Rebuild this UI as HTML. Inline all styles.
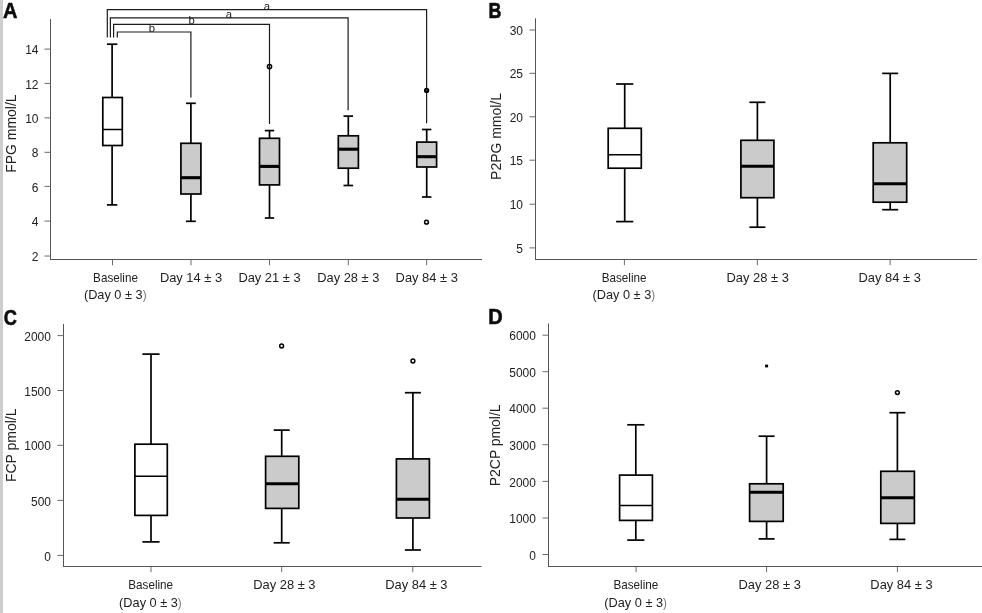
<!DOCTYPE html>
<html><head><meta charset="utf-8"><title>Figure</title>
<style>
html,body{margin:0;padding:0;background:#fff;}
body{width:982px;height:613px;overflow:hidden;}
svg{display:block;will-change:transform;font-family:"Liberation Sans",sans-serif;}
</style></head><body>
<svg width="982" height="613" viewBox="0 0 982 613">
<rect x="0" y="0" width="982" height="613" fill="#fff"/>
<rect x="0" y="0" width="3" height="613" fill="#cdcdcd"/>
<text transform="translate(2.9 17.5) scale(0.91 1)" font-size="22" font-weight="bold" fill="#0d0d0d" stroke="#0d0d0d" stroke-width="0.6" stroke-linejoin="round">A</text>
<line x1="50.5" y1="19" x2="50.5" y2="260.0" stroke="#555" stroke-width="1" />
<line x1="50.0" y1="259.5" x2="482" y2="259.5" stroke="#555" stroke-width="1" />
<line x1="44.5" y1="49.1" x2="50.5" y2="49.1" stroke="#6a6a6a" stroke-width="1" />
<text x="38.5" y="54.2" font-size="13.2" text-anchor="end" font-weight="normal" fill="#222" textLength="13.36" lengthAdjust="spacingAndGlyphs">14</text>
<line x1="44.5" y1="83.4" x2="50.5" y2="83.4" stroke="#6a6a6a" stroke-width="1" />
<text x="38.5" y="88.5" font-size="13.2" text-anchor="end" font-weight="normal" fill="#222" textLength="13.36" lengthAdjust="spacingAndGlyphs">12</text>
<line x1="44.5" y1="117.9" x2="50.5" y2="117.9" stroke="#6a6a6a" stroke-width="1" />
<text x="38.5" y="123.0" font-size="13.2" text-anchor="end" font-weight="normal" fill="#222" textLength="13.36" lengthAdjust="spacingAndGlyphs">10</text>
<line x1="44.5" y1="152.3" x2="50.5" y2="152.3" stroke="#6a6a6a" stroke-width="1" />
<text x="38.5" y="157.4" font-size="13.2" text-anchor="end" font-weight="normal" fill="#222" textLength="6.68" lengthAdjust="spacingAndGlyphs">8</text>
<line x1="44.5" y1="186.4" x2="50.5" y2="186.4" stroke="#6a6a6a" stroke-width="1" />
<text x="38.5" y="191.5" font-size="13.2" text-anchor="end" font-weight="normal" fill="#222" textLength="6.68" lengthAdjust="spacingAndGlyphs">6</text>
<line x1="44.5" y1="221.1" x2="50.5" y2="221.1" stroke="#6a6a6a" stroke-width="1" />
<text x="38.5" y="226.2" font-size="13.2" text-anchor="end" font-weight="normal" fill="#222" textLength="6.68" lengthAdjust="spacingAndGlyphs">4</text>
<line x1="44.5" y1="256.0" x2="50.5" y2="256.0" stroke="#6a6a6a" stroke-width="1" />
<text x="38.5" y="261.1" font-size="13.2" text-anchor="end" font-weight="normal" fill="#222" textLength="6.68" lengthAdjust="spacingAndGlyphs">2</text>
<line x1="112.5" y1="259.5" x2="112.5" y2="265.2" stroke="#6a6a6a" stroke-width="1" />
<line x1="191" y1="259.5" x2="191" y2="265.2" stroke="#6a6a6a" stroke-width="1" />
<line x1="269.5" y1="259.5" x2="269.5" y2="265.2" stroke="#6a6a6a" stroke-width="1" />
<line x1="348.3" y1="259.5" x2="348.3" y2="265.2" stroke="#6a6a6a" stroke-width="1" />
<line x1="426.7" y1="259.5" x2="426.7" y2="265.2" stroke="#6a6a6a" stroke-width="1" />
<text x="16.2" y="133.6" font-size="14.4" text-anchor="middle" font-weight="normal" fill="#222" textLength="78.4" lengthAdjust="spacingAndGlyphs" transform="rotate(-90 16.2 133.6)">FPG mmol/L</text>
<polyline points="107.3,37.6 107.3,9.7 426.6,9.7 426.6,123.3" fill="none" stroke="#1c1c1c" stroke-width="1.2"/>
<polyline points="110.4,37.6 110.4,17.8 348.1,17.8 348.1,110.3" fill="none" stroke="#1c1c1c" stroke-width="1.2"/>
<polyline points="113.6,37.6 113.6,24.4 269.5,24.4 269.5,124.0" fill="none" stroke="#1c1c1c" stroke-width="1.2"/>
<polyline points="117.3,37.6 117.3,32.0 190.9,32.0 190.9,97.4" fill="none" stroke="#1c1c1c" stroke-width="1.2"/>
<text x="151.8" y="31.8" font-size="11.3" text-anchor="middle" font-weight="normal" fill="#222">b</text>
<text x="191.6" y="24.1" font-size="11.3" text-anchor="middle" font-weight="normal" fill="#222">b</text>
<text x="229.0" y="17.8" font-size="11.3" text-anchor="middle" font-weight="normal" fill="#222">a</text>
<text x="266.8" y="9.9" font-size="11.3" text-anchor="middle" font-weight="normal" fill="#222">a</text>
<line x1="112.1" y1="44.2" x2="112.1" y2="97.5" stroke="#000" stroke-width="1.7" />
<line x1="112.1" y1="145.5" x2="112.1" y2="204.9" stroke="#000" stroke-width="1.7" />
<line x1="106.89999999999999" y1="44.2" x2="117.3" y2="44.2" stroke="#000" stroke-width="1.7" />
<line x1="106.89999999999999" y1="204.9" x2="117.3" y2="204.9" stroke="#000" stroke-width="1.7" />
<rect x="102.8" y="97.5" width="19.5" height="48.0" fill="#fff" stroke="#000" stroke-width="1.7"/>
<line x1="102.8" y1="129.5" x2="122.3" y2="129.5" stroke="#000" stroke-width="1.5" />
<line x1="190.9" y1="103.3" x2="190.9" y2="143.3" stroke="#000" stroke-width="1.7" />
<line x1="190.9" y1="194.0" x2="190.9" y2="221.3" stroke="#000" stroke-width="1.7" />
<line x1="186.0" y1="103.3" x2="195.8" y2="103.3" stroke="#000" stroke-width="1.7" />
<line x1="186.0" y1="221.3" x2="195.8" y2="221.3" stroke="#000" stroke-width="1.7" />
<rect x="180.9" y="143.3" width="20.0" height="50.7" fill="#cbcbcb" stroke="#000" stroke-width="1.7"/>
<line x1="180.9" y1="177.7" x2="200.9" y2="177.7" stroke="#000" stroke-width="3.1" />
<line x1="269.5" y1="130.6" x2="269.5" y2="138.3" stroke="#000" stroke-width="1.7" />
<line x1="269.5" y1="184.9" x2="269.5" y2="218.0" stroke="#000" stroke-width="1.7" />
<line x1="264.8" y1="130.6" x2="274.2" y2="130.6" stroke="#000" stroke-width="1.7" />
<line x1="264.8" y1="218.0" x2="274.2" y2="218.0" stroke="#000" stroke-width="1.7" />
<rect x="259.5" y="138.3" width="20.0" height="46.6" fill="#cbcbcb" stroke="#000" stroke-width="1.7"/>
<line x1="259.5" y1="166.4" x2="279.5" y2="166.4" stroke="#000" stroke-width="3.1" />
<line x1="348.3" y1="116.1" x2="348.3" y2="135.8" stroke="#000" stroke-width="1.7" />
<line x1="348.3" y1="168.2" x2="348.3" y2="185.5" stroke="#000" stroke-width="1.7" />
<line x1="343.5" y1="116.1" x2="353.1" y2="116.1" stroke="#000" stroke-width="1.7" />
<line x1="343.5" y1="185.5" x2="353.1" y2="185.5" stroke="#000" stroke-width="1.7" />
<rect x="338.3" y="135.8" width="20.1" height="32.4" fill="#cbcbcb" stroke="#000" stroke-width="1.7"/>
<line x1="338.3" y1="149.2" x2="358.4" y2="149.2" stroke="#000" stroke-width="3.1" />
<line x1="426.7" y1="129.5" x2="426.7" y2="142.1" stroke="#000" stroke-width="1.7" />
<line x1="426.7" y1="167.0" x2="426.7" y2="197.0" stroke="#000" stroke-width="1.7" />
<line x1="422.0" y1="129.5" x2="431.4" y2="129.5" stroke="#000" stroke-width="1.7" />
<line x1="422.0" y1="197.0" x2="431.4" y2="197.0" stroke="#000" stroke-width="1.7" />
<rect x="416.8" y="142.1" width="19.8" height="24.9" fill="#cbcbcb" stroke="#000" stroke-width="1.7"/>
<line x1="416.8" y1="156.7" x2="436.6" y2="156.7" stroke="#000" stroke-width="3.1" />
<circle cx="269.5" cy="66.6" r="2.1" fill="none" stroke="#000" stroke-width="1.5"/>
<circle cx="426.6" cy="90.4" r="1.9" fill="#333" stroke="#000" stroke-width="1.5"/>
<circle cx="426.5" cy="222.2" r="1.9" fill="none" stroke="#000" stroke-width="1.5"/>
<text x="115.5" y="281.9" font-size="13.2" text-anchor="middle" font-weight="normal" fill="#222" textLength="44.8" lengthAdjust="spacingAndGlyphs">Baseline</text>
<text x="115.2" y="299.2" font-size="13.2" text-anchor="middle" font-weight="normal" fill="#222" textLength="62.6" lengthAdjust="spacingAndGlyphs">(Day 0 ± 3<tspan fill="#777" font-size="12">)</tspan></text>
<text x="191" y="281.9" font-size="13.2" text-anchor="middle" font-weight="normal" fill="#222" textLength="62.2" lengthAdjust="spacingAndGlyphs">Day 14 ± 3</text>
<text x="269.5" y="281.9" font-size="13.2" text-anchor="middle" font-weight="normal" fill="#222" textLength="62.2" lengthAdjust="spacingAndGlyphs">Day 21 ± 3</text>
<text x="348.3" y="281.9" font-size="13.2" text-anchor="middle" font-weight="normal" fill="#222" textLength="62.2" lengthAdjust="spacingAndGlyphs">Day 28 ± 3</text>
<text x="426.7" y="281.9" font-size="13.2" text-anchor="middle" font-weight="normal" fill="#222" textLength="62.2" lengthAdjust="spacingAndGlyphs">Day 84 ± 3</text>
<text transform="translate(488.4 17.6) scale(0.81 1)" font-size="22" font-weight="bold" fill="#0d0d0d" stroke="#0d0d0d" stroke-width="0.6" stroke-linejoin="round">B</text>
<line x1="535.5" y1="18.3" x2="535.5" y2="260.0" stroke="#555" stroke-width="1" />
<line x1="535.0" y1="259.5" x2="977" y2="259.5" stroke="#555" stroke-width="1" />
<line x1="529.5" y1="30.0" x2="535.5" y2="30.0" stroke="#6a6a6a" stroke-width="1" />
<text x="523.0" y="35.1" font-size="13.2" text-anchor="end" font-weight="normal" fill="#222" textLength="13.36" lengthAdjust="spacingAndGlyphs">30</text>
<line x1="529.5" y1="73.3" x2="535.5" y2="73.3" stroke="#6a6a6a" stroke-width="1" />
<text x="523.0" y="78.39999999999999" font-size="13.2" text-anchor="end" font-weight="normal" fill="#222" textLength="13.36" lengthAdjust="spacingAndGlyphs">25</text>
<line x1="529.5" y1="116.8" x2="535.5" y2="116.8" stroke="#6a6a6a" stroke-width="1" />
<text x="523.0" y="121.89999999999999" font-size="13.2" text-anchor="end" font-weight="normal" fill="#222" textLength="13.36" lengthAdjust="spacingAndGlyphs">20</text>
<line x1="529.5" y1="160.2" x2="535.5" y2="160.2" stroke="#6a6a6a" stroke-width="1" />
<text x="523.0" y="165.29999999999998" font-size="13.2" text-anchor="end" font-weight="normal" fill="#222" textLength="13.36" lengthAdjust="spacingAndGlyphs">15</text>
<line x1="529.5" y1="204.2" x2="535.5" y2="204.2" stroke="#6a6a6a" stroke-width="1" />
<text x="523.0" y="209.29999999999998" font-size="13.2" text-anchor="end" font-weight="normal" fill="#222" textLength="13.36" lengthAdjust="spacingAndGlyphs">10</text>
<line x1="529.5" y1="247.9" x2="535.5" y2="247.9" stroke="#6a6a6a" stroke-width="1" />
<text x="523.0" y="253.0" font-size="13.2" text-anchor="end" font-weight="normal" fill="#222" textLength="6.68" lengthAdjust="spacingAndGlyphs">5</text>
<line x1="624.4" y1="259.5" x2="624.4" y2="265.2" stroke="#6a6a6a" stroke-width="1" />
<line x1="757.3" y1="259.5" x2="757.3" y2="265.2" stroke="#6a6a6a" stroke-width="1" />
<line x1="890.1" y1="259.5" x2="890.1" y2="265.2" stroke="#6a6a6a" stroke-width="1" />
<text x="500.5" y="136.5" font-size="14.4" text-anchor="middle" font-weight="normal" fill="#222" textLength="86.8" lengthAdjust="spacingAndGlyphs" transform="rotate(-90 500.5 136.5)">P2PG mmol/L</text>
<line x1="624.7" y1="84.0" x2="624.7" y2="128.3" stroke="#000" stroke-width="1.7" />
<line x1="624.7" y1="168.2" x2="624.7" y2="221.6" stroke="#000" stroke-width="1.7" />
<line x1="616.1" y1="84.0" x2="633.3000000000001" y2="84.0" stroke="#000" stroke-width="1.7" />
<line x1="616.1" y1="221.6" x2="633.3000000000001" y2="221.6" stroke="#000" stroke-width="1.7" />
<rect x="608.2" y="128.3" width="33.1" height="39.9" fill="#fff" stroke="#000" stroke-width="1.7"/>
<line x1="608.2" y1="154.7" x2="641.3" y2="154.7" stroke="#000" stroke-width="1.5" />
<line x1="757.4" y1="102.3" x2="757.4" y2="140.3" stroke="#000" stroke-width="1.7" />
<line x1="757.4" y1="197.7" x2="757.4" y2="227.2" stroke="#000" stroke-width="1.7" />
<line x1="749.4" y1="102.3" x2="765.4" y2="102.3" stroke="#000" stroke-width="1.7" />
<line x1="749.4" y1="227.2" x2="765.4" y2="227.2" stroke="#000" stroke-width="1.7" />
<rect x="740.9" y="140.3" width="33.0" height="57.4" fill="#cbcbcb" stroke="#000" stroke-width="1.7"/>
<line x1="740.9" y1="166.3" x2="773.9" y2="166.3" stroke="#000" stroke-width="3.1" />
<line x1="890.2" y1="73.4" x2="890.2" y2="142.8" stroke="#000" stroke-width="1.7" />
<line x1="890.2" y1="202.2" x2="890.2" y2="209.7" stroke="#000" stroke-width="1.7" />
<line x1="882.2" y1="73.4" x2="898.2" y2="73.4" stroke="#000" stroke-width="1.7" />
<line x1="882.2" y1="209.7" x2="898.2" y2="209.7" stroke="#000" stroke-width="1.7" />
<rect x="873.2" y="142.8" width="33.5" height="59.4" fill="#cbcbcb" stroke="#000" stroke-width="1.7"/>
<line x1="873.2" y1="183.7" x2="906.7" y2="183.7" stroke="#000" stroke-width="3.1" />
<text x="624.1" y="281.9" font-size="13.2" text-anchor="middle" font-weight="normal" fill="#222" textLength="44.8" lengthAdjust="spacingAndGlyphs">Baseline</text>
<text x="623.8000000000001" y="299.2" font-size="13.2" text-anchor="middle" font-weight="normal" fill="#222" textLength="62.6" lengthAdjust="spacingAndGlyphs">(Day 0 ± 3<tspan fill="#777" font-size="12">)</tspan></text>
<text x="757.7" y="281.9" font-size="13.2" text-anchor="middle" font-weight="normal" fill="#222" textLength="62.3" lengthAdjust="spacingAndGlyphs">Day 28 ± 3</text>
<text x="889.7" y="281.9" font-size="13.2" text-anchor="middle" font-weight="normal" fill="#222" textLength="62.3" lengthAdjust="spacingAndGlyphs">Day 84 ± 3</text>
<text transform="translate(3.8 324.5) scale(0.83 1)" font-size="22" font-weight="bold" fill="#0d0d0d" stroke="#0d0d0d" stroke-width="0.6" stroke-linejoin="round">C</text>
<line x1="63.5" y1="324" x2="63.5" y2="567.0" stroke="#555" stroke-width="1" />
<line x1="63.0" y1="566.5" x2="481.5" y2="566.5" stroke="#555" stroke-width="1" />
<line x1="57.5" y1="335.6" x2="63.5" y2="335.6" stroke="#6a6a6a" stroke-width="1" />
<text x="51.0" y="340.70000000000005" font-size="13.2" text-anchor="end" font-weight="normal" fill="#222" textLength="26.72" lengthAdjust="spacingAndGlyphs">2000</text>
<line x1="57.5" y1="390.5" x2="63.5" y2="390.5" stroke="#6a6a6a" stroke-width="1" />
<text x="51.0" y="395.6" font-size="13.2" text-anchor="end" font-weight="normal" fill="#222" textLength="26.72" lengthAdjust="spacingAndGlyphs">1500</text>
<line x1="57.5" y1="445.3" x2="63.5" y2="445.3" stroke="#6a6a6a" stroke-width="1" />
<text x="51.0" y="450.40000000000003" font-size="13.2" text-anchor="end" font-weight="normal" fill="#222" textLength="26.72" lengthAdjust="spacingAndGlyphs">1000</text>
<line x1="57.5" y1="500.4" x2="63.5" y2="500.4" stroke="#6a6a6a" stroke-width="1" />
<text x="51.0" y="505.5" font-size="13.2" text-anchor="end" font-weight="normal" fill="#222" textLength="20.04" lengthAdjust="spacingAndGlyphs">500</text>
<line x1="57.5" y1="555.4" x2="63.5" y2="555.4" stroke="#6a6a6a" stroke-width="1" />
<text x="51.0" y="560.5" font-size="13.2" text-anchor="end" font-weight="normal" fill="#222" textLength="6.68" lengthAdjust="spacingAndGlyphs">0</text>
<line x1="151" y1="566.5" x2="151" y2="572.2" stroke="#6a6a6a" stroke-width="1" />
<line x1="281.7" y1="566.5" x2="281.7" y2="572.2" stroke="#6a6a6a" stroke-width="1" />
<line x1="412.8" y1="566.5" x2="412.8" y2="572.2" stroke="#6a6a6a" stroke-width="1" />
<text x="16.2" y="445.3" font-size="14.4" text-anchor="middle" font-weight="normal" fill="#222" textLength="73.4" lengthAdjust="spacingAndGlyphs" transform="rotate(-90 16.2 445.3)">FCP pmol/L</text>
<line x1="151" y1="354.1" x2="151" y2="444.2" stroke="#000" stroke-width="1.7" />
<line x1="151" y1="515.4" x2="151" y2="541.9" stroke="#000" stroke-width="1.7" />
<line x1="142.4" y1="354.1" x2="159.6" y2="354.1" stroke="#000" stroke-width="1.7" />
<line x1="142.4" y1="541.9" x2="159.6" y2="541.9" stroke="#000" stroke-width="1.7" />
<rect x="134.9" y="444.2" width="32.4" height="71.2" fill="#fff" stroke="#000" stroke-width="1.7"/>
<line x1="134.9" y1="476.3" x2="167.3" y2="476.3" stroke="#000" stroke-width="1.5" />
<line x1="281.7" y1="430.1" x2="281.7" y2="456.3" stroke="#000" stroke-width="1.7" />
<line x1="281.7" y1="508.4" x2="281.7" y2="542.8" stroke="#000" stroke-width="1.7" />
<line x1="273.7" y1="430.1" x2="289.7" y2="430.1" stroke="#000" stroke-width="1.7" />
<line x1="273.7" y1="542.8" x2="289.7" y2="542.8" stroke="#000" stroke-width="1.7" />
<rect x="265.6" y="456.3" width="33.2" height="52.1" fill="#cbcbcb" stroke="#000" stroke-width="1.7"/>
<line x1="265.6" y1="483.7" x2="298.8" y2="483.7" stroke="#000" stroke-width="3.1" />
<line x1="412.9" y1="392.7" x2="412.9" y2="458.9" stroke="#000" stroke-width="1.7" />
<line x1="412.9" y1="518.0" x2="412.9" y2="550.0" stroke="#000" stroke-width="1.7" />
<line x1="404.9" y1="392.7" x2="420.9" y2="392.7" stroke="#000" stroke-width="1.7" />
<line x1="404.9" y1="550.0" x2="420.9" y2="550.0" stroke="#000" stroke-width="1.7" />
<rect x="396.4" y="458.9" width="33.0" height="59.1" fill="#cbcbcb" stroke="#000" stroke-width="1.7"/>
<line x1="396.4" y1="499.2" x2="429.4" y2="499.2" stroke="#000" stroke-width="3.1" />
<circle cx="281.6" cy="346.0" r="1.9" fill="none" stroke="#000" stroke-width="1.5"/>
<circle cx="412.9" cy="361.0" r="1.9" fill="none" stroke="#000" stroke-width="1.5"/>
<text x="150.7" y="589.3" font-size="13.2" text-anchor="middle" font-weight="normal" fill="#222" textLength="44.8" lengthAdjust="spacingAndGlyphs">Baseline</text>
<text x="150.39999999999998" y="606.5999999999999" font-size="13.2" text-anchor="middle" font-weight="normal" fill="#222" textLength="62.6" lengthAdjust="spacingAndGlyphs">(Day 0 ± 3<tspan fill="#777" font-size="12">)</tspan></text>
<text x="284.4" y="589.3" font-size="13.2" text-anchor="middle" font-weight="normal" fill="#222" textLength="62.3" lengthAdjust="spacingAndGlyphs">Day 28 ± 3</text>
<text x="416.4" y="589.3" font-size="13.2" text-anchor="middle" font-weight="normal" fill="#222" textLength="62.3" lengthAdjust="spacingAndGlyphs">Day 84 ± 3</text>
<text transform="translate(488.2 324.1) scale(0.91 1)" font-size="22" font-weight="bold" fill="#0d0d0d" stroke="#0d0d0d" stroke-width="0.6" stroke-linejoin="round">D</text>
<line x1="548.5" y1="323.5" x2="548.5" y2="567.0" stroke="#555" stroke-width="1" />
<line x1="548.0" y1="566.5" x2="982" y2="566.5" stroke="#555" stroke-width="1" />
<line x1="542.5" y1="335.2" x2="548.5" y2="335.2" stroke="#6a6a6a" stroke-width="1" />
<text x="536.0" y="340.3" font-size="13.2" text-anchor="end" font-weight="normal" fill="#222" textLength="26.72" lengthAdjust="spacingAndGlyphs">6000</text>
<line x1="542.5" y1="371.7" x2="548.5" y2="371.7" stroke="#6a6a6a" stroke-width="1" />
<text x="536.0" y="376.8" font-size="13.2" text-anchor="end" font-weight="normal" fill="#222" textLength="26.72" lengthAdjust="spacingAndGlyphs">5000</text>
<line x1="542.5" y1="408.2" x2="548.5" y2="408.2" stroke="#6a6a6a" stroke-width="1" />
<text x="536.0" y="413.3" font-size="13.2" text-anchor="end" font-weight="normal" fill="#222" textLength="26.72" lengthAdjust="spacingAndGlyphs">4000</text>
<line x1="542.5" y1="444.7" x2="548.5" y2="444.7" stroke="#6a6a6a" stroke-width="1" />
<text x="536.0" y="449.8" font-size="13.2" text-anchor="end" font-weight="normal" fill="#222" textLength="26.72" lengthAdjust="spacingAndGlyphs">3000</text>
<line x1="542.5" y1="481.4" x2="548.5" y2="481.4" stroke="#6a6a6a" stroke-width="1" />
<text x="536.0" y="486.5" font-size="13.2" text-anchor="end" font-weight="normal" fill="#222" textLength="26.72" lengthAdjust="spacingAndGlyphs">2000</text>
<line x1="542.5" y1="518.0" x2="548.5" y2="518.0" stroke="#6a6a6a" stroke-width="1" />
<text x="536.0" y="523.1" font-size="13.2" text-anchor="end" font-weight="normal" fill="#222" textLength="26.72" lengthAdjust="spacingAndGlyphs">1000</text>
<line x1="542.5" y1="554.5" x2="548.5" y2="554.5" stroke="#6a6a6a" stroke-width="1" />
<text x="536.0" y="559.6" font-size="13.2" text-anchor="end" font-weight="normal" fill="#222" textLength="6.68" lengthAdjust="spacingAndGlyphs">0</text>
<line x1="636.1" y1="566.5" x2="636.1" y2="572.2" stroke="#6a6a6a" stroke-width="1" />
<line x1="766.6" y1="566.5" x2="766.6" y2="572.2" stroke="#6a6a6a" stroke-width="1" />
<line x1="897.4" y1="566.5" x2="897.4" y2="572.2" stroke="#6a6a6a" stroke-width="1" />
<text x="500.5" y="445.3" font-size="14.4" text-anchor="middle" font-weight="normal" fill="#222" textLength="81.7" lengthAdjust="spacingAndGlyphs" transform="rotate(-90 500.5 445.3)">P2CP pmol/L</text>
<line x1="635.8" y1="424.8" x2="635.8" y2="475.1" stroke="#000" stroke-width="1.7" />
<line x1="635.8" y1="520.4" x2="635.8" y2="540.1" stroke="#000" stroke-width="1.7" />
<line x1="627.1999999999999" y1="424.8" x2="644.4" y2="424.8" stroke="#000" stroke-width="1.7" />
<line x1="627.1999999999999" y1="540.1" x2="644.4" y2="540.1" stroke="#000" stroke-width="1.7" />
<rect x="619.6" y="475.1" width="32.8" height="45.3" fill="#fff" stroke="#000" stroke-width="1.7"/>
<line x1="619.6" y1="505.5" x2="652.4" y2="505.5" stroke="#000" stroke-width="1.5" />
<line x1="766.6" y1="436.2" x2="766.6" y2="483.8" stroke="#000" stroke-width="1.7" />
<line x1="766.6" y1="521.4" x2="766.6" y2="538.9" stroke="#000" stroke-width="1.7" />
<line x1="758.6" y1="436.2" x2="774.6" y2="436.2" stroke="#000" stroke-width="1.7" />
<line x1="758.6" y1="538.9" x2="774.6" y2="538.9" stroke="#000" stroke-width="1.7" />
<rect x="749.6" y="483.8" width="33.6" height="37.6" fill="#cbcbcb" stroke="#000" stroke-width="1.7"/>
<line x1="749.6" y1="492.3" x2="783.2" y2="492.3" stroke="#000" stroke-width="3.1" />
<line x1="897.4" y1="412.7" x2="897.4" y2="471.3" stroke="#000" stroke-width="1.7" />
<line x1="897.4" y1="523.4" x2="897.4" y2="539.4" stroke="#000" stroke-width="1.7" />
<line x1="889.4" y1="412.7" x2="905.4" y2="412.7" stroke="#000" stroke-width="1.7" />
<line x1="889.4" y1="539.4" x2="905.4" y2="539.4" stroke="#000" stroke-width="1.7" />
<rect x="880.8" y="471.3" width="33.6" height="52.1" fill="#cbcbcb" stroke="#000" stroke-width="1.7"/>
<line x1="880.8" y1="497.8" x2="914.4" y2="497.8" stroke="#000" stroke-width="3.1" />
<rect x="765.1" y="364.6" width="3" height="2.8" fill="#000"/>
<circle cx="897.4" cy="392.6" r="1.9" fill="none" stroke="#000" stroke-width="1.5"/>
<text x="635.9" y="589.3" font-size="13.2" text-anchor="middle" font-weight="normal" fill="#222" textLength="44.8" lengthAdjust="spacingAndGlyphs">Baseline</text>
<text x="635.6" y="606.5999999999999" font-size="13.2" text-anchor="middle" font-weight="normal" fill="#222" textLength="62.6" lengthAdjust="spacingAndGlyphs">(Day 0 ± 3<tspan fill="#777" font-size="12">)</tspan></text>
<text x="769.7" y="589.3" font-size="13.2" text-anchor="middle" font-weight="normal" fill="#222" textLength="62.3" lengthAdjust="spacingAndGlyphs">Day 28 ± 3</text>
<text x="901.5" y="589.3" font-size="13.2" text-anchor="middle" font-weight="normal" fill="#222" textLength="62.3" lengthAdjust="spacingAndGlyphs">Day 84 ± 3</text>
</svg>
</body></html>
